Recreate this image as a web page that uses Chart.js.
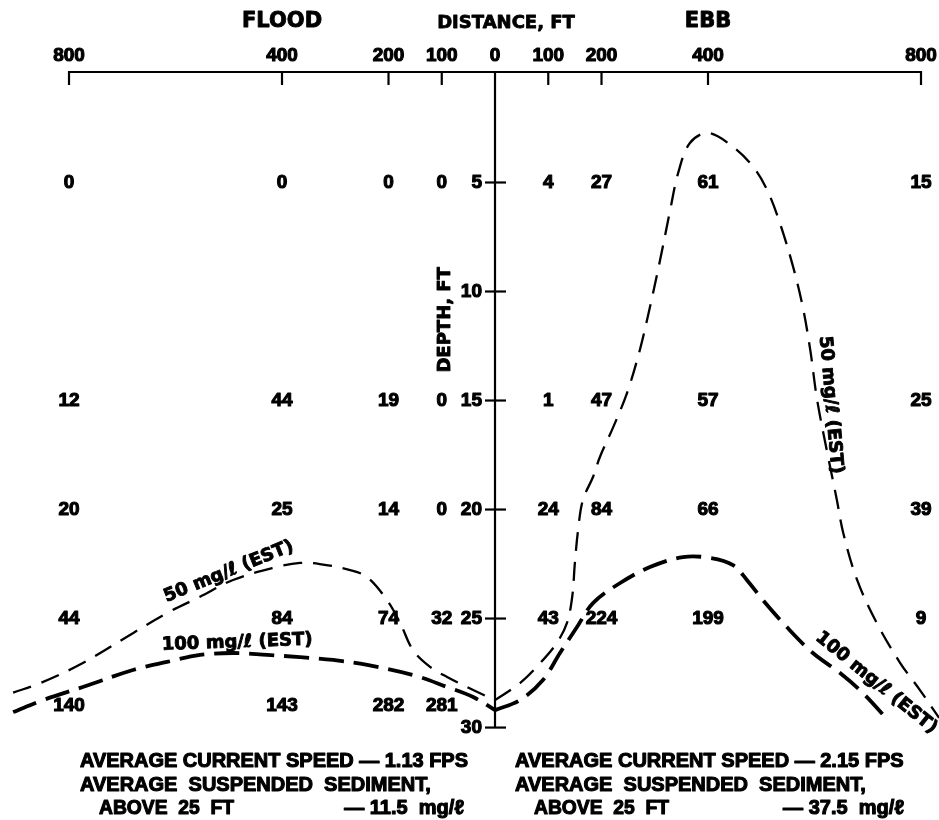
<!DOCTYPE html>
<html>
<head>
<meta charset="utf-8">
<script src="https://cdn.jsdelivr.net/npm/chart.js"></script>
<style>
html,body{margin:0;padding:0;background:#fff;}
#wrap{width:939px;height:820px;position:relative;}
</style>
</head>
<body>
<div id="wrap"><canvas id="c"></canvas></div>
<script>
// ---------- data ----------
const distanceTicks = [-800, -400, -200, -100, 0, 100, 200, 400, 800]; // flood side negative
const depthTicks = [5, 10, 15, 20, 25, 30];

const floodDistances = [800, 400, 200, 100];
const ebbDistances = [100, 200, 400, 800];
const floodDepths = [5, 15, 20, 25, 29];
const ebbDepths = [5, 15, 20, 25];

// suspended sediment, mg/l  (rows = depth, cols = distance)
const floodConc = [
  [0, 0, 0, 0],
  [12, 44, 19, 0],
  [20, 25, 14, 0],
  [44, 84, 74, 32],
  [140, 143, 282, 281]
];
const ebbConc = [
  [4, 27, 61, 15],
  [1, 47, 57, 25],
  [24, 84, 66, 39],
  [43, 224, 199, 9]
];

// contour lines [signed distance ft, depth ft]
const flood50 = [[-905,28.4],[-854,27.96],[-774,27.04],[-680,25.67],[-616,24.75],[-554,24.0],[-492,23.23],[-417,22.68],[-366,22.45],[-329,22.5],[-272,22.78],[-240,23.1],[-203,24.15],[-178,25.21],[-154,26.45],[-122,27.22],[-90,27.68],[-41,28.28],[0,28.74]];
const flood100 = [[-905,29.29],[-849,28.74],[-774,28.14],[-680,27.36],[-616,26.99],[-554,26.67],[-492,26.58],[-428,26.67],[-366,26.77],[-304,26.9],[-240,27.13],[-154,27.59],[-90,28.14],[-41,28.6],[0,29.2]];
const ebb50 = [[0,28.74],[47,27.96],[85,27.04],[116,26.12],[135,25.21],[145,24.0],[150,22.45],[156,20.94],[165,19.56],[184,18.51],[197,17.59],[222,16.22],[248,14.65],[272,12.68],[291,10.71],[310,8.56],[329,6.26],[344,4.56],[366,3.19],[400,2.73],[447,3.37],[485,4.29],[511,5.34],[535,6.86],[560,8.88],[578,10.71],[592,12.68],[605,14.98],[623,17.27],[642,19.56],[654,21.08],[680,23.23],[717,25.21],[761,27.04],[798,28.28],[834,29.56]];
const ebb100 = [[0,29.2],[47,28.74],[90,27.82],[122,26.58],[154,25.39],[184,24.29],[235,23.37],[291,22.64],[353,22.18],[404,22.22],[447,22.55],[473,23.23],[503,24.15],[548,25.39],[597,26.58],[648,27.5],[691,28.42],[736,29.6]];

const contourLabels = ['50 mg/\u2113 (EST)', '100 mg/\u2113 (EST)', '50 mg/\u2113 (EST)', '100 mg/\u2113 (EST)'];
const summaryFlood = ['AVERAGE CURRENT SPEED \u2014 1.13 FPS', 'AVERAGE  SUSPENDED  SEDIMENT,', 'ABOVE  25  FT', '\u2014 11.5  mg/\u2113'];
const summaryEbb = ['AVERAGE CURRENT SPEED \u2014 2.15 FPS', 'AVERAGE  SUSPENDED  SEDIMENT,', 'ABOVE  25  FT', '\u2014 37.5  mg/\u2113'];

// ---------- build ----------
const valuePoints = [];
floodDepths.forEach((z, i) => floodDistances.forEach((d, j) => valuePoints.push({x: -d, y: z, v: floodConc[i][j]})));
ebbDepths.forEach((z, i) => ebbDistances.forEach((d, j) => valuePoints.push({x: d, y: z, v: ebbConc[i][j]})));
const toPts = arr => arr.map(p => ({x: p[0], y: p[1]}));

const LIB = '"Liberation Sans", Arial, sans-serif';
const DJV = '"DejaVu Sans", sans-serif';

// heavy text: fill + thin stroke to mimic the black typeface
function heavy(ctx, text, px, py, maxW, sw) {
  ctx.lineWidth = sw === undefined ? 1.1 : sw;
  ctx.lineJoin = 'round';
  if (maxW) { ctx.fillText(text, px, py, maxW); ctx.strokeText(text, px, py, maxW); }
  else { ctx.fillText(text, px, py); ctx.strokeText(text, px, py); }
}

function rotText(ctx, text, px, py, deg, font) {
  ctx.save();
  ctx.translate(px, py);
  ctx.rotate(deg * Math.PI / 180);
  ctx.font = font;
  ctx.textAlign = 'center';
  ctx.textBaseline = 'middle';
  heavy(ctx, text, 0, 0, 0, 0.9);
  ctx.restore();
}

const sectionPlugin = {
  id: 'section',
  afterDatasetsDraw(chart) {
    const {ctx} = chart;
    const xs = chart.scales.x, ys = chart.scales.y;
    ctx.save();
    ctx.fillStyle = '#000';
    ctx.strokeStyle = '#000';
    ctx.lineCap = 'butt';

    // top distance axis
    const y0 = ys.getPixelForValue(0) - 1.5;
    const xl = xs.getPixelForValue(distanceTicks[0]);
    const xr = xs.getPixelForValue(distanceTicks[distanceTicks.length - 1]);
    ctx.lineWidth = 2.2;
    ctx.beginPath();
    ctx.moveTo(xl, y0 + 13); ctx.lineTo(xl, y0); ctx.lineTo(xr, y0); ctx.lineTo(xr, y0 + 13);
    ctx.stroke();
    distanceTicks.forEach(d => {
      const px = xs.getPixelForValue(d);
      if (d !== 0 && Math.abs(d) !== 800) {
        ctx.lineWidth = 2.2;
        ctx.beginPath(); ctx.moveTo(px, y0); ctx.lineTo(px, y0 + 13); ctx.stroke();
      }
    });
    ctx.font = 'bold 19px ' + LIB;
    ctx.textAlign = 'center';
    ctx.textBaseline = 'middle';
    distanceTicks.forEach(d => {
      heavy(ctx, String(Math.abs(d)), xs.getPixelForValue(d), y0 - 16);
    });

    // titles
    ctx.font = 'bold 21px ' + DJV;
    heavy(ctx, 'FLOOD', xs.getPixelForValue(-400), 22, 0, 0.9);
    heavy(ctx, 'EBB', xs.getPixelForValue(400), 22, 0, 0.9);
    ctx.font = 'bold 18px ' + DJV;
    heavy(ctx, 'DISTANCE, FT', xs.getPixelForValue(0) + 11, 23, 0, 0.8);

    // depth axis at distance 0
    const xc = xs.getPixelForValue(0);
    ctx.lineWidth = 2.2;
    ctx.beginPath();
    ctx.moveTo(xc, y0);
    ctx.lineTo(xc, ys.getPixelForValue(depthTicks[depthTicks.length - 1]));
    ctx.stroke();
    depthTicks.forEach(z => {
      const py = ys.getPixelForValue(z);
      ctx.lineWidth = 2.2;
      ctx.beginPath(); ctx.moveTo(xc - 10, py); ctx.lineTo(xc + 11, py); ctx.stroke();
    });
    ctx.font = 'bold 19px ' + LIB;
    ctx.textAlign = 'right';
    depthTicks.forEach(z => {
      heavy(ctx, String(z), xc - 13, ys.getPixelForValue(z));
    });
    rotText(ctx, 'DEPTH, FT', xc - 50, ys.getPixelForValue(11.3), -90, 'bold 18px ' + DJV);

    // sampled values
    ctx.font = 'bold 19px ' + LIB;
    ctx.textAlign = 'center';
    const meta = chart.getDatasetMeta(0);
    meta.data.forEach((el, i) => {
      heavy(ctx, String(valuePoints[i].v), el.x, el.y);
    });

    // contour labels
    const lf = 'bold 18px ' + DJV;
    rotText(ctx, contourLabels[0], xs.getPixelForValue(-500), ys.getPixelForValue(22.85), -22, lf);
    rotText(ctx, contourLabels[1], xs.getPixelForValue(-484), ys.getPixelForValue(26.1), -2, lf);
    rotText(ctx, contourLabels[2], xs.getPixelForValue(630), ys.getPixelForValue(15.2), 85, lf);
    rotText(ctx, contourLabels[3], xs.getPixelForValue(716), ys.getPixelForValue(27.95), 39, lf);

    // summary text
    ctx.font = 'bold 20px ' + LIB;
    ctx.textBaseline = 'middle';
    const blocks = [[summaryFlood, 80, 468], [summaryEbb, 515, 908]];
    blocks.forEach(([s, left, right]) => {
      ctx.textAlign = 'left';
      heavy(ctx, s[0], left, 761, right - left);
      heavy(ctx, s[1], left, 785, right - left - 18);
      heavy(ctx, s[2], left + 19, 808, 135);
      ctx.textAlign = 'right';
      heavy(ctx, s[3], right - 4, 808, 130);
    });
    ctx.restore();
  }
};

const lineDs = (data, w, dash) => ({
  type: 'scatter', data: toPts(data), showLine: true, pointRadius: 0,
  borderColor: '#000', borderWidth: w, borderDash: dash, fill: false,
  tension: 0.35, borderCapStyle: 'butt'
});

new Chart(document.getElementById('c'), {
  type: 'scatter',
  data: {
    datasets: [
      {data: valuePoints, pointRadius: 0, showLine: false},
      lineDs(flood50, 2.3, [19, 11]),
      lineDs(flood100, 3.8, [25, 10]),
      lineDs(ebb50, 2.3, [19, 11]),
      lineDs(ebb100, 3.8, [25, 10])
    ]
  },
  options: {
    responsive: true,
    maintainAspectRatio: false,
    animation: false,
    devicePixelRatio: 1,
    layout: {padding: 0},
    plugins: {legend: {display: false}, tooltip: {enabled: false}},
    scales: {
      x: {type: 'linear', min: -929.6, max: 833.8, display: false},
      y: {type: 'linear', reverse: true, min: -3.37, max: 34.24, display: false}
    }
  },
  plugins: [sectionPlugin]
});
</script>
</body>
</html>
